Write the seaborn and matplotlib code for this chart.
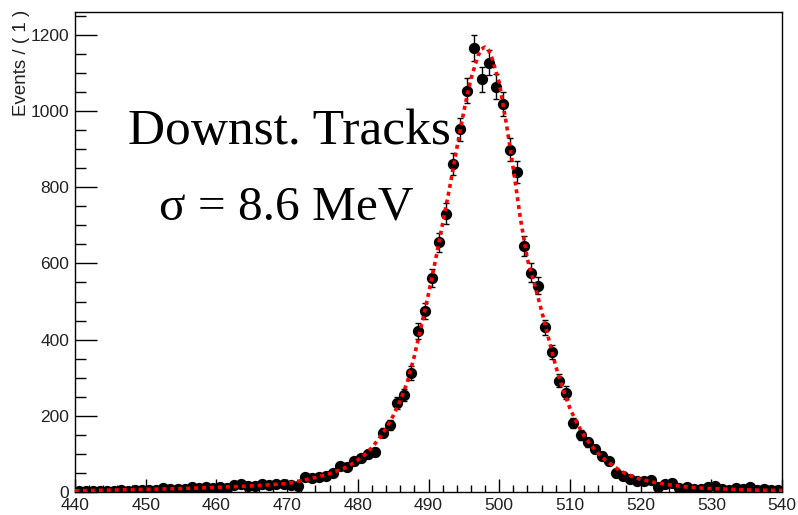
import numpy as np
import pandas as pd
import matplotlib
matplotlib.use("Agg")
import matplotlib.pyplot as plt
import seaborn as sns
from matplotlib.ticker import MultipleLocator

# ---- data: bin centres and counts (1 MeV bins, 440-540) ----
bin_centers = [440.5 + i for i in range(100)]
counts = [
    3, 3, 2, 3, 3, 3, 4, 3, 4, 6,          # 440-449
    4, 6, 11, 9, 7, 9, 13, 10, 13, 11,     # 450-459
    13, 10, 18, 20, 16, 16, 20, 19, 20, 20,  # 460-469
    19, 17, 40, 36, 40, 41, 50, 67, 65, 81,  # 470-479
    88, 100, 105, 156, 176, 233, 255, 313, 423, 475,  # 480-489
    561, 655, 731, 861, 952, 1053, 1165, 1083, 1127, 1064,  # 490-499
    1018, 898, 840, 646, 576, 542, 432, 367, 292, 261,  # 500-509
    182, 150, 130, 112, 95, 81, 51, 42, 33, 29,  # 510-519
    29, 31, 14, 21, 24, 10, 14, 9, 9, 12,  # 520-529
    16, 9, 4, 10, 9, 12, 6, 9, 6, 6,       # 530-539
]

# ---- fit curve ----
fit_x = [440, 445, 450, 455, 460, 465, 470, 472, 474, 476, 478, 479, 480, 481,
         482, 483, 484, 485, 486, 487, 488, 489, 490, 491, 492, 493, 494, 495,
         496, 497, 497.5, 498, 498.5, 499, 500, 501, 502, 503, 504, 505, 506,
         507, 508, 509, 510, 511, 512, 513, 514, 515, 516, 517, 518, 519, 520,
         522, 524, 526, 528, 530, 533, 536, 540]
fit_y = [3, 5, 7, 9, 12, 16, 22, 30, 38, 48, 62, 72, 84, 98,
         117, 140, 167, 200, 240, 288, 357, 438, 520, 610, 705, 800, 902, 1000,
         1085, 1145, 1163, 1168, 1160, 1138, 1075, 968, 848, 718, 610, 545, 475,
         402, 330, 270, 220, 180, 148, 122, 101, 84, 70, 57, 47, 39, 33,
         25, 19, 14, 11, 9, 7, 5, 4]

x_ticks = [440, 450, 460, 470, 480, 490, 500, 510, 520, 530, 540]
y_ticks = [0, 200, 400, 600, 800, 1000, 1200]

df = pd.DataFrame({"m": bin_centers, "n": counts})
df["err"] = np.sqrt(df["n"])
fit = pd.DataFrame({"m": fit_x, "f": fit_y})

sns.set_theme(style="ticks")
plt.rcParams["font.family"] = ["Liberation Sans", "DejaVu Sans"]

fig = plt.figure(figsize=(7.98, 5.15), dpi=100)
ax = fig.add_axes([75 / 798, 1 - 492 / 515, (782 - 75) / 798, (492 - 12) / 515])

ax.errorbar(df["m"], df["n"], yerr=df["err"], fmt="none", ecolor="black",
            elinewidth=1.0, capsize=2.2, capthick=1.0, zorder=2)
sns.scatterplot(data=df, x="m", y="n", ax=ax, color="black", s=66,
                edgecolor="black", linewidth=0, zorder=3, legend=False)
sns.lineplot(data=fit, x="m", y="f", ax=ax, color="#ff0000", linewidth=2.6,
             linestyle=(0, (1.1, 1.1)), zorder=4, legend=False)

ax.set_xlim(440, 540)
ax.set_ylim(0, 1260)
ax.set_xticks(x_ticks)
ax.set_yticks(y_ticks)
ax.xaxis.set_minor_locator(MultipleLocator(2))
ax.yaxis.set_minor_locator(MultipleLocator(50))
ax.tick_params(axis="both", which="both", direction="in", top=False, right=False,
               width=1.0, color="black", labelsize=12.5, labelcolor="#222222")
ax.tick_params(axis="y", which="major", length=16, pad=4)
ax.tick_params(axis="y", which="minor", length=8)
ax.tick_params(axis="x", which="major", length=9.5, pad=4)
ax.tick_params(axis="x", which="minor", length=5)
for sp in ax.spines.values():
    sp.set_visible(True)
    sp.set_linewidth(1.0)
    sp.set_color("black")

ax.set_xlabel("")
ax.set_ylabel("")
fig.text(22 / 798, 1 - 10 / 515, "Events / ( 1 )", rotation=90, ha="center",
         va="top", fontsize=13.5, color="#222222")

serif = ["Liberation Serif", "DejaVu Serif"]
ax.text(128 / 798, 1 - 144 / 515, "Downst. Tracks", transform=fig.transFigure,
        family=serif, fontsize=37, color="black", ha="left", va="baseline")
ax.text(159 / 798, 1 - 220 / 515, "σ = 8.6 MeV", transform=fig.transFigure,
        family=serif, fontsize=35.5, color="black", ha="left", va="baseline")

fig.savefig("out.png", dpi=100)
